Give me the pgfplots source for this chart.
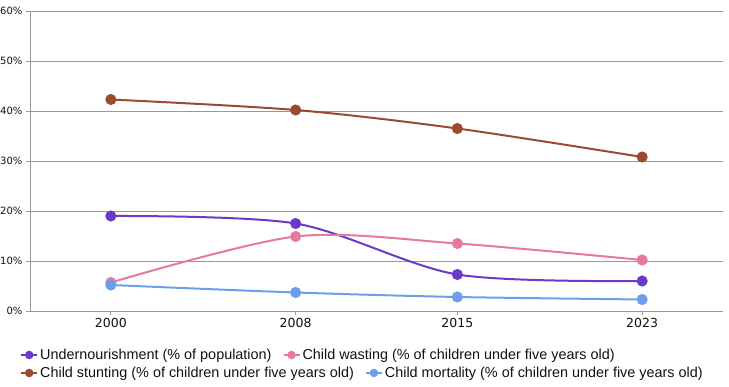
\documentclass[border=0pt]{standalone}
\usepackage{pgfplots}
\pgfplotsset{compat=1.18}
\usepackage{fontspec}
\setmainfont{Liberation Sans}
\newfontfamily\tickfont{DejaVu Sans}
\definecolor{cPurple}{HTML}{6A3BC6}
\definecolor{cPink}{HTML}{E8799E}
\definecolor{cBrown}{HTML}{9B4A2F}
\definecolor{cBlue}{HTML}{6C9EEB}
\definecolor{gridgray}{HTML}{999999}
\definecolor{tickc}{HTML}{111111}
\pgfplotsset{
  mylegend/.style={
    legend columns=2,
    legend cell align=left,
    legend style={at={(axis description cs:0,0)}, anchor=west, xshift=-13pt,
      draw=none, fill=none, font=\fontsize{14.4}{16}\selectfont, text=tickc,
      /tikz/every even column/.append style={column sep=9pt}},
    legend image code/.code={\draw[##1,mark=none] (0pt,0pt) -- (16pt,0pt); \fill[##1] (8pt,0pt) circle (3.2pt);}
  }
}
\begin{document}
\begin{tikzpicture}
\begin{axis}[at={(0,0)}, anchor=south west, scale only axis, width=693pt, height=300pt,
  xmin=1996.5, xmax=2026.5, ymin=0, ymax=60,
  xtick={2000,2008,2015,2023}, xticklabels={2000,2008,2015,2023},
  ytick={0,10,20,30,40,50,60}, yticklabels={0\%,10\%,20\%,30\%,40\%,50\%,60\%},
  axis x line*=bottom, axis y line*=left,
  ymajorgrids, grid style={draw=gridgray, line width=0.8pt},
  axis line style={draw=gridgray, line width=0.8pt},
  tick style={draw=gridgray, line width=0.8pt},
  tick align=outside, major tick length=4pt,
  x tick label style={font=\fontsize{12.5}{14}\tickfont, text=tickc},
  y tick label style={font=\fontsize{10}{11}\tickfont, text=tickc},
  every axis plot/.append style={line width=2pt, mark=*, mark size=4.5pt, smooth},
  mylegend, legend style={yshift=-44pt}
]
\addplot[cPurple, mark options={fill=cPurple}] coordinates {(2000,19.0) (2008,17.5) (2015,7.3) (2023,6.0)};
\addlegendentry{Undernourishment (\% of population)}
\addplot[cPink, mark options={fill=cPink}] coordinates {(2000,5.7) (2008,14.9) (2015,13.5) (2023,10.2)};
\addlegendentry{Child wasting (\% of children under five years old)}
\addplot[cBrown, mark options={fill=cBrown}, forget plot] coordinates {(2000,42.3) (2008,40.2) (2015,36.5) (2023,30.8)};
\addplot[cBlue, mark options={fill=cBlue}, forget plot] coordinates {(2000,5.2) (2008,3.7) (2015,2.8) (2023,2.3)};
\end{axis}
\begin{axis}[at={(0,0)}, anchor=south west, scale only axis, width=693pt, height=300pt,
  hide axis, xmin=0, xmax=1, ymin=0, ymax=1,
  mylegend, legend style={yshift=-62pt}
]
\addlegendimage{cBrown, line width=2pt}
\addlegendentry{Child stunting (\% of children under five years old)}
\addlegendimage{cBlue, line width=2pt}
\addlegendentry{Child mortality (\% of children under five years old)}
\end{axis}
\pgfresetboundingbox
\path[use as bounding box] (-30pt,-76pt) rectangle (699pt,311pt);
\end{tikzpicture}
\end{document}
